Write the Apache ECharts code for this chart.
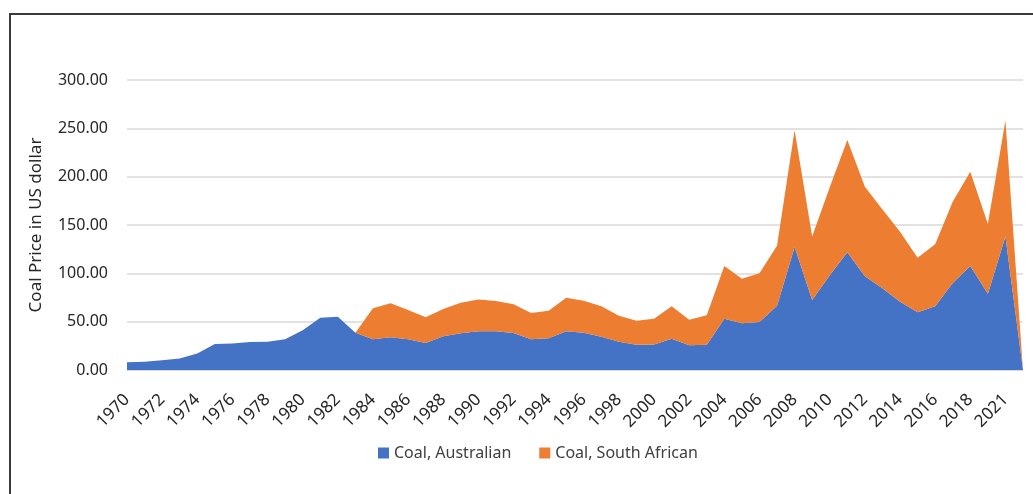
<!DOCTYPE html>
<html>
<head>
<meta charset="utf-8">
<title>Coal price</title>
<script src="https://cdn.jsdelivr.net/npm/echarts/dist/echarts.min.js"></script>
<style>
  html, body {
    margin: 0;
    padding: 0;
    background: #fff;
  }
  #chart {
    width: 1033px;
    height: 494px;
  }
</style>
</head>
<body>
<div id="chart"></div>
<script>
// 年份（原表跳过了 2020）
let years = [
  '1970', '1971', '1972', '1973', '1974', '1975', '1976', '1977', '1978', '1979',
  '1980', '1981', '1982', '1983', '1984', '1985', '1986', '1987', '1988', '1989',
  '1990', '1991', '1992', '1993', '1994', '1995', '1996', '1997', '1998', '1999',
  '2000', '2001', '2002', '2003', '2004', '2005', '2006', '2007', '2008', '2009',
  '2010', '2011', '2012', '2013', '2014', '2015', '2016', '2017', '2018', '2019',
  '2021', '2022'
]
let australian = [
  8.0, 8.6, 10, 12, 17, 27, 27.3, 29, 29.3, 31.7,
  41, 54, 55, 38.6, 31.7, 34, 31.7, 28, 35, 38,
  40, 40, 38.3, 31.7, 32.8, 40, 38.6, 34.5, 29.3, 26.2,
  26.5, 32.4, 25.5, 26.2, 53, 48.3, 49.7, 66.5, 127.3, 72.4,
  98, 121.7, 97, 84.5, 70.7, 59.7, 66, 90, 107.6, 79,
  138, 0
]
let southAfrican = [
  0, 0, 0, 0, 0, 0, 0, 0, 0, 0,
  0, 0, 0, 0, 32.3, 35, 30.3, 26.5, 28, 31.6,
  33, 31.4, 29.7, 27.3, 28.6, 34.8, 33.1, 31.5, 26.7, 24.8,
  26.5, 33.6, 26.5, 30.4, 54.6, 46.2, 50.3, 62, 120.7, 65.6,
  91, 116.3, 92.6, 81.5, 72.3, 56.3, 64, 84, 97.4, 72,
  120, 0
]
let seriesNames = ['Coal, Australian', 'Coal, South African']

let font = 'Noto Sans'
let mychart = echarts.init(document.getElementById('chart'))
mychart.setOption({
  animation: false,
  color: ['#4472C4', '#ED7D31'],
  textStyle: {
    fontFamily: font
  },
  // 外框
  graphic: [
    {
      type: 'rect',
      shape: { x: 10, y: 14, width: 1040, height: 500 },
      style: { fill: 'none', stroke: '#3a3a3a', lineWidth: 2 },
      silent: true
    }
  ],
  legend: {
    data: seriesNames,
    left: 373,
    top: 440,
    icon: 'rect',
    itemWidth: 11,
    itemHeight: 11,
    itemGap: 28,
    textStyle: {
      fontFamily: font,
      fontSize: 16,
      color: '#404040'
    }
  },
  grid: {
    left: 127,
    right: 10,
    top: 80,
    bottom: 124
  },
  xAxis: {
    type: 'category',
    data: years,
    boundaryGap: false,
    axisLine: { lineStyle: { color: '#d9d9d9', width: 1 } },
    axisTick: { show: false },
    axisLabel: {
      interval: 1,
      rotate: 45,
      margin: 27,
      fontFamily: font,
      fontSize: 17,
      color: '#262626'
    }
  },
  yAxis: {
    type: 'value',
    min: 0,
    max: 300,
    interval: 50,
    name: 'Coal Price in US dollar',
    nameLocation: 'middle',
    nameGap: 82,
    nameTextStyle: {
      fontFamily: font,
      fontSize: 17,
      color: '#262626'
    },
    axisLabel: {
      margin: 19,
      fontFamily: font,
      fontSize: 16,
      color: '#262626',
      formatter: function (v) { return v.toFixed(2) }
    },
    splitLine: { lineStyle: { color: '#d9d9d9', width: 1.5 } }
  },
  series: [
    {
      name: seriesNames[0],
      type: 'line',
      stack: 'coal',
      data: australian,
      symbol: 'none',
      lineStyle: { width: 0 },
      areaStyle: { opacity: 1 }
    },
    {
      name: seriesNames[1],
      type: 'line',
      stack: 'coal',
      data: southAfrican,
      symbol: 'none',
      lineStyle: { width: 0 },
      areaStyle: { opacity: 1 }
    }
  ]
})
</script>
</body>
</html>
